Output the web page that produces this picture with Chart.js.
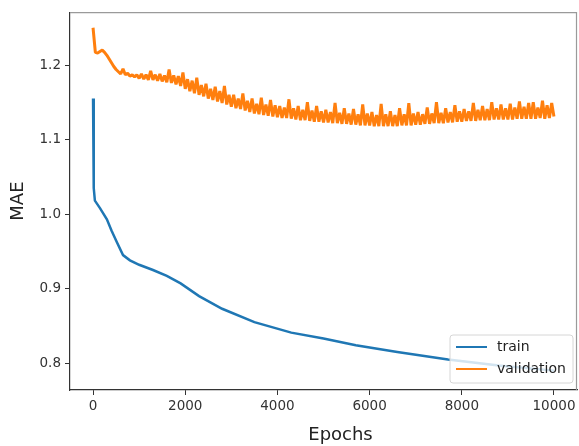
<!DOCTYPE html>
<html>
<head>
<meta charset="utf-8">
<script src="https://cdn.jsdelivr.net/npm/chart.js@4"></script>
<style>
  body { margin: 0; background: #fff; }
  #wrap { width: 579px; height: 446px; }
</style>
</head>
<body>
<div id="wrap"><canvas id="chart" width="579" height="446"></canvas></div>
<script>
// Dados
const xTicks = [0, 2000, 4000, 6000, 8000, 10000];
const yTicks = [0.8, 0.9, 1.0, 1.1, 1.2];

const trainEpochs = [0, 10, 20, 40, 150, 300, 400, 520, 650, 800, 1000, 1300, 1600, 1900, 2300, 2800, 3500, 4300, 5000, 5700, 6600, 7700, 8800, 9999];
const trainMAE = [1.155, 1.07, 1.035, 1.018, 1.008, 0.993, 0.978, 0.962, 0.945, 0.938, 0.932, 0.925, 0.917, 0.907, 0.89, 0.873, 0.855, 0.841, 0.833, 0.824, 0.815, 0.805, 0.797, 0.790];

// validação: um valor a cada 50 épocas
const valStep = 50;
const valMAE = [
  1.250, 1.217, 1.216, 1.218, 1.220, 1.217, 1.213, 1.208, 1.203, 1.198,
  1.194, 1.191, 1.188, 1.195, 1.187, 1.189, 1.185, 1.187, 1.184, 1.187,
  1.182, 1.188, 1.181, 1.187, 1.180, 1.192, 1.180, 1.187, 1.179, 1.188,
  1.178, 1.186, 1.177, 1.194, 1.176, 1.186, 1.174, 1.185, 1.172, 1.190,
  1.168, 1.181, 1.165, 1.179, 1.162, 1.183, 1.160, 1.173, 1.158, 1.175,
  1.155, 1.168, 1.153, 1.171, 1.151, 1.165, 1.149, 1.172, 1.147, 1.160,
  1.144, 1.160, 1.142, 1.155, 1.141, 1.162, 1.139, 1.152, 1.137, 1.155,
  1.135, 1.148, 1.134, 1.156, 1.133, 1.147, 1.132, 1.153, 1.131, 1.146,
  1.130, 1.145, 1.129, 1.143, 1.129, 1.154, 1.128, 1.142, 1.127, 1.145,
  1.126, 1.140, 1.126, 1.150, 1.125, 1.139, 1.124, 1.145, 1.124, 1.138,
  1.123, 1.140, 1.123, 1.137, 1.122, 1.149, 1.122, 1.136, 1.121, 1.142,
  1.121, 1.135, 1.120, 1.141, 1.120, 1.134, 1.119, 1.147, 1.119, 1.135,
  1.119, 1.137, 1.118, 1.133, 1.118, 1.148, 1.118, 1.134, 1.118, 1.138,
  1.118, 1.133, 1.118, 1.142, 1.119, 1.134, 1.119, 1.149, 1.119, 1.135,
  1.120, 1.137, 1.120, 1.134, 1.121, 1.143, 1.121, 1.135, 1.122, 1.150,
  1.122, 1.136, 1.122, 1.142, 1.123, 1.137, 1.123, 1.146, 1.124, 1.138,
  1.124, 1.141, 1.125, 1.138, 1.125, 1.149, 1.125, 1.140, 1.126, 1.145,
  1.126, 1.141, 1.126, 1.150, 1.127, 1.142, 1.127, 1.147, 1.127, 1.142,
  1.127, 1.148, 1.127, 1.143, 1.128, 1.151, 1.128, 1.144, 1.128, 1.149,
  1.128, 1.150, 1.128, 1.143, 1.129, 1.152, 1.128, 1.146, 1.129, 1.149,
  1.131
];

const seriesNames = ['train', 'validation'];
const seriesColors = ['#1f77b4', '#ff7f0e'];

const FONT = '"DejaVu Sans", sans-serif';

// Molduras superior e direita
const framePlugin = {
  id: 'frame',
  afterDraw(chart) {
    const ctx = chart.ctx, a = chart.chartArea;
    ctx.save();
    ctx.strokeStyle = '#9a9a9a';
    ctx.lineWidth = 1.2;
    ctx.beginPath();
    ctx.moveTo(a.left, a.top + 0.5);
    ctx.lineTo(a.right, a.top + 0.5);
    ctx.moveTo(a.right - 0.5, a.top);
    ctx.lineTo(a.right - 0.5, a.bottom);
    ctx.stroke();
    ctx.restore();
  }
};

// Título do eixo x
const xTitlePlugin = {
  id: 'xTitle',
  afterDraw(chart) {
    const ctx = chart.ctx, a = chart.chartArea;
    ctx.save();
    ctx.fillStyle = '#222';
    ctx.font = '18px ' + FONT;
    ctx.textAlign = 'center';
    ctx.textBaseline = 'middle';
    ctx.fillText('Epochs', (a.left + a.right) / 2 + 17, a.bottom + 45);
    ctx.restore();
  }
};

// Legenda dentro da área do gráfico
const legendPlugin = {
  id: 'boxLegend',
  afterDatasetsDraw(chart) {
    const ctx = chart.ctx, a = chart.chartArea;
    const w = 123, h = 48;
    const x = a.right - 4 - w, y = a.bottom - 7 - h;
    ctx.save();
    ctx.beginPath();
    ctx.roundRect(x, y, w, h, 3);
    ctx.fillStyle = 'rgba(255,255,255,0.8)';
    ctx.fill();
    ctx.strokeStyle = '#d6d6d6';
    ctx.lineWidth = 1;
    ctx.stroke();
    ctx.font = '14px ' + FONT;
    ctx.textBaseline = 'middle';
    seriesNames.forEach((name, i) => {
      const ly = y + 12 + i * 22;
      ctx.strokeStyle = seriesColors[i];
      ctx.lineWidth = 2;
      ctx.beginPath();
      ctx.moveTo(x + 6, ly);
      ctx.lineTo(x + 37, ly);
      ctx.stroke();
      ctx.fillStyle = '#222';
      ctx.fillText(name, x + 47, ly);
    });
    ctx.restore();
  }
};

const trainPoints = trainEpochs.map((e, i) => ({ x: e, y: trainMAE[i] }));
const valPoints = valMAE.map((v, i) => ({ x: Math.min(i * valStep, 9999), y: v }));

new Chart(document.getElementById('chart'), {
  type: 'line',
  data: {
    datasets: [
      { label: seriesNames[0], data: trainPoints, borderColor: seriesColors[0], borderWidth: 2.5, pointRadius: 0, tension: 0 },
      { label: seriesNames[1], data: valPoints, borderColor: seriesColors[1], borderWidth: 3, borderJoinStyle: 'bevel', pointRadius: 0, tension: 0 }
    ]
  },
  options: {
    responsive: false,
    animation: false,
    devicePixelRatio: 1,
    layout: { padding: { left: 0, top: 10, right: 2, bottom: 0 } },
    plugins: { legend: { display: false }, tooltip: { enabled: false } },
    scales: {
      x: {
        type: 'linear',
        min: -500,
        max: 10499,
        afterBuildTicks: s => { s.ticks = xTicks.map(v => ({ value: v })); },
        afterFit: s => { s.height = 56; },
        grid: { drawOnChartArea: false, drawTicks: true, tickLength: 5, tickColor: '#333' },
        border: { color: '#333', width: 1.2 },
        ticks: { color: '#333', font: { family: FONT, size: 13.5 }, padding: 3, maxRotation: 0, callback: v => String(v) }
      },
      y: {
        min: 0.764,
        max: 1.271,
        afterBuildTicks: s => { s.ticks = yTicks.map(v => ({ value: v })); },
        afterFit: s => { s.width = 70; },
        grid: { drawOnChartArea: false, drawTicks: true, tickLength: 5, tickColor: '#333' },
        border: { color: '#333', width: 1.2 },
        ticks: { color: '#333', font: { family: FONT, size: 13.5 }, padding: 4, callback: v => v.toFixed(1) },
        title: { display: true, text: 'MAE', color: '#222', font: { family: FONT, size: 18 }, padding: { top: 8, bottom: 6 } }
      }
    }
  },
  plugins: [framePlugin, xTitlePlugin, legendPlugin]
});
</script>
</body>
</html>
